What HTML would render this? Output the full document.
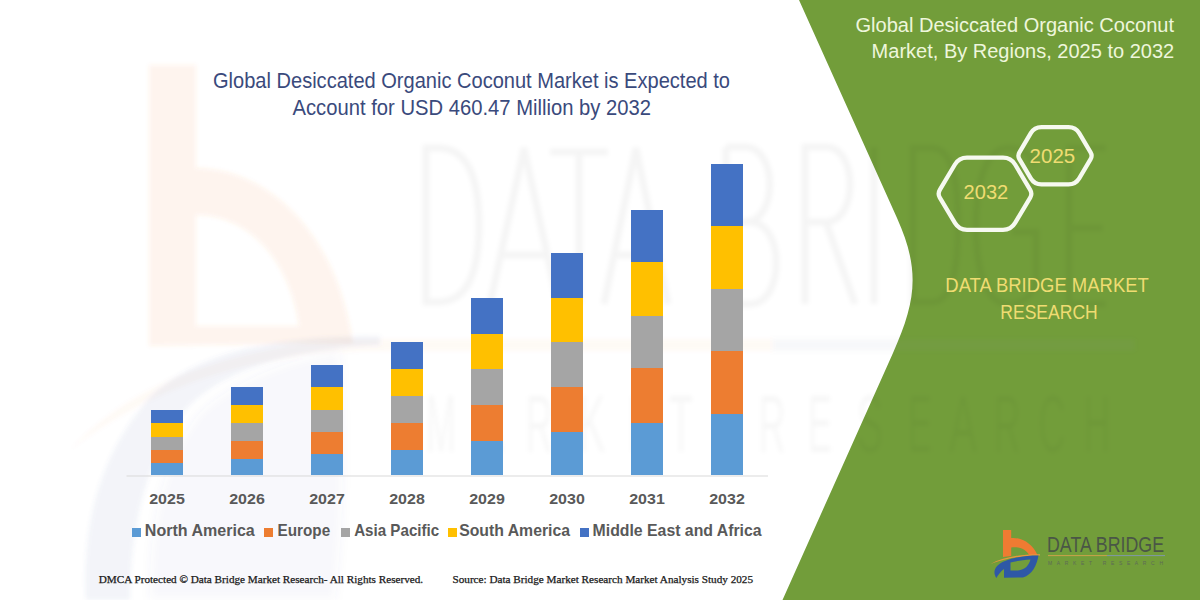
<!DOCTYPE html>
<html><head><meta charset="utf-8">
<style>
html,body{margin:0;padding:0;background:#fff;}
body{width:1200px;height:600px;overflow:hidden;position:relative;font-family:"Liberation Sans",sans-serif;}
svg{position:absolute;left:0;top:0;display:block;}
</style></head>
<body>
<svg width="1200" height="600" viewBox="0 0 1200 600">
  <rect x="0" y="0" width="1200" height="600" fill="#ffffff"/>
  <!-- green panel -->
  <path d="M799,0 L897,218 C920.4,270 916.2,301 893,353 L782.5,600 L1200,600 L1200,0 Z" fill="#729d3a"/>

  <!-- watermark -->
  <defs>
    <filter id="bl" x="-10%" y="-10%" width="120%" height="120%"><feGaussianBlur stdDeviation="2"/></filter>
    <filter id="bl4" x="-10%" y="-10%" width="120%" height="120%"><feGaussianBlur stdDeviation="5"/></filter>
  </defs>
  <g filter="url(#bl)">
    <!-- big b -->
    <g fill="#f07c30" fill-opacity="0.085">
      <path fill-rule="evenodd" d="M149,65 L196,65 L196,168 C262,168 335,225 353,343 L149,346 Z M196,215 C250,215 290,262 299,326 L196,326 Z"/>
    </g>
    <!-- swoosh orange thin -->
    <path d="M70,450 C130,385 230,345 360,339 L773,339 L773,351 L360,351 C240,355 140,395 70,450 Z" fill="#f07c30" fill-opacity="0.04"/>
    <rect x="773" y="339" width="362" height="12" fill="#7085a8" fill-opacity="0.06"/>
    <!-- D swoosh (blue gray) -->
    <path d="M86,600 C82,520 102,450 152,395 C202,350 280,335 380,336 L380,345 C290,348 222,372 188,407 C150,450 130,520 130,600 Z" fill="#4a6aa8" fill-opacity="0.075"/>
    <path d="M150,600 C148,520 165,455 200,412 C235,380 290,358 340,352 C345,420 345,520 335,600 Z" fill="#4a6aa8" fill-opacity="0.04" filter="url(#bl4)"/>
    <!-- DATA BRIDGE letters -->
    <g fill="none" stroke="#000" stroke-opacity="0.04" stroke-width="7">
      <path d="M426,148 L426,302 L438,302 C468,302 479,270 479,225 C479,180 468,148 438,148 Z"/>
      <path d="M490,304 L524,148 L558,304 M500,255 L548,255"/>
      <path d="M550,152 L608,152 M579,152 L579,304"/>
      <path d="M604,304 L636,148 L668,304 M614,255 L658,255"/>
      <path d="M726,147 L726,304 L750,304 C785,304 785,222 750,222 L726,222 M726,147 L745,147 C778,147 778,222 745,222"/>
      <path d="M805,304 L805,147 L826,147 C858,147 858,222 826,222 L805,222 M826,222 L855,304"/>
      <path d="M874,147 L874,304"/>
      <path d="M913,148 L913,302 L932,302 C952,302 958,270 958,225 C958,180 952,148 932,148 Z"/>
      <path d="M1036,165 C1028,150 1018,148 1008,148 C985,148 976,185 976,226 C976,268 985,304 1008,304 C1022,304 1034,296 1036,280 L1036,232 L1012,232"/>
      <path d="M1106,148 L1069,148 L1069,304 L1106,304 M1069,228 L1103,228"/>
    </g>
    <!-- MARKET RESEARCH letters -->
    <g font-family="Liberation Sans" font-size="82" fill="#000" fill-opacity="0.03" text-anchor="middle">
      <text x="441" y="452" textLength="30" lengthAdjust="spacingAndGlyphs">M</text>
      <text x="490" y="452" textLength="28" lengthAdjust="spacingAndGlyphs">A</text>
      <text x="539" y="452" textLength="27" lengthAdjust="spacingAndGlyphs">R</text>
      <text x="592" y="452" textLength="27" lengthAdjust="spacingAndGlyphs">K</text>
      <text x="640" y="452" textLength="24" lengthAdjust="spacingAndGlyphs">E</text>
      <text x="681" y="452" textLength="24" lengthAdjust="spacingAndGlyphs">T</text>
      <text x="772" y="452" textLength="27" lengthAdjust="spacingAndGlyphs">R</text>
      <text x="820" y="452" textLength="24" lengthAdjust="spacingAndGlyphs">E</text>
      <text x="870" y="452" textLength="26" lengthAdjust="spacingAndGlyphs">S</text>
      <text x="920" y="452" textLength="24" lengthAdjust="spacingAndGlyphs">E</text>
      <text x="963" y="452" textLength="28" lengthAdjust="spacingAndGlyphs">A</text>
      <text x="1007" y="452" textLength="27" lengthAdjust="spacingAndGlyphs">R</text>
      <text x="1052" y="452" textLength="27" lengthAdjust="spacingAndGlyphs">C</text>
      <text x="1097" y="452" textLength="27" lengthAdjust="spacingAndGlyphs">H</text>
    </g>
  </g>

  <!-- title -->
  <g font-family="Liberation Sans" fill="#3a4a7c">
    <text x="213" y="87.7" font-size="21.2" textLength="517" lengthAdjust="spacingAndGlyphs">Global Desiccated Organic Coconut Market is Expected to</text>
    <text x="292.5" y="114.9" font-size="21.2" textLength="358.5" lengthAdjust="spacingAndGlyphs">Account for USD 460.47 Million by 2032</text>
  </g>

  <!-- axis -->
  <line x1="126.5" y1="476" x2="768" y2="476" stroke="#d9d9d9" stroke-width="1"/>

  <!-- bars: NA, EU, AP, SA, MEA -->
  <g shape-rendering="crispEdges">
    <!-- 2025 -->
    <rect x="151" y="463.3" width="32" height="11.9" fill="#5b9bd5"/>
    <rect x="151" y="449.6" width="32" height="13.7" fill="#ed7d31"/>
    <rect x="151" y="436.7" width="32" height="12.9" fill="#a5a5a5"/>
    <rect x="151" y="422.7" width="32" height="14" fill="#ffc000"/>
    <rect x="151" y="409.6" width="32" height="13.1" fill="#4472c4"/>
    <!-- 2026 -->
    <rect x="231" y="458.7" width="32" height="16.5" fill="#5b9bd5"/>
    <rect x="231" y="440.8" width="32" height="17.9" fill="#ed7d31"/>
    <rect x="231" y="423" width="32" height="17.8" fill="#a5a5a5"/>
    <rect x="231" y="405" width="32" height="18" fill="#ffc000"/>
    <rect x="231" y="387" width="32" height="18" fill="#4472c4"/>
    <!-- 2027 -->
    <rect x="311" y="454.4" width="32" height="20.8" fill="#5b9bd5"/>
    <rect x="311" y="431.5" width="32" height="22.9" fill="#ed7d31"/>
    <rect x="311" y="409.6" width="32" height="21.9" fill="#a5a5a5"/>
    <rect x="311" y="386.9" width="32" height="22.7" fill="#ffc000"/>
    <rect x="311" y="364.8" width="32" height="22.1" fill="#4472c4"/>
    <!-- 2028 -->
    <rect x="391" y="450" width="32" height="25.2" fill="#5b9bd5"/>
    <rect x="391" y="422.5" width="32" height="27.5" fill="#ed7d31"/>
    <rect x="391" y="395.75" width="32" height="26.75" fill="#a5a5a5"/>
    <rect x="391" y="368.75" width="32" height="27" fill="#ffc000"/>
    <rect x="391" y="341.75" width="32" height="27" fill="#4472c4"/>
    <!-- 2029 -->
    <rect x="471" y="440.8" width="32" height="34.4" fill="#5b9bd5"/>
    <rect x="471" y="404.7" width="32" height="36.1" fill="#ed7d31"/>
    <rect x="471" y="368.7" width="32" height="36" fill="#a5a5a5"/>
    <rect x="471" y="333.8" width="32" height="34.9" fill="#ffc000"/>
    <rect x="471" y="297.8" width="32" height="36" fill="#4472c4"/>
    <!-- 2030 -->
    <rect x="551" y="432" width="32" height="43.2" fill="#5b9bd5"/>
    <rect x="551" y="386.7" width="32" height="45.3" fill="#ed7d31"/>
    <rect x="551" y="342" width="32" height="44.7" fill="#a5a5a5"/>
    <rect x="551" y="297.5" width="32" height="44.5" fill="#ffc000"/>
    <rect x="551" y="252.8" width="32" height="44.7" fill="#4472c4"/>
    <!-- 2031 -->
    <rect x="631" y="422.8" width="32" height="52.4" fill="#5b9bd5"/>
    <rect x="631" y="368.3" width="32" height="54.5" fill="#ed7d31"/>
    <rect x="631" y="316.3" width="32" height="52" fill="#a5a5a5"/>
    <rect x="631" y="262" width="32" height="54.3" fill="#ffc000"/>
    <rect x="631" y="209.5" width="32" height="52.5" fill="#4472c4"/>
    <!-- 2032 -->
    <rect x="711" y="413.7" width="32" height="61.5" fill="#5b9bd5"/>
    <rect x="711" y="350.8" width="32" height="62.9" fill="#ed7d31"/>
    <rect x="711" y="288.8" width="32" height="62" fill="#a5a5a5"/>
    <rect x="711" y="225.5" width="32" height="63.3" fill="#ffc000"/>
    <rect x="711" y="164.2" width="32" height="61.3" fill="#4472c4"/>
  </g>

  <!-- year labels -->
  <g font-family="Liberation Sans" font-weight="bold" font-size="15.3" fill="#595959" text-anchor="middle">
    <text x="167" y="504" textLength="35.6" lengthAdjust="spacingAndGlyphs">2025</text>
    <text x="247" y="504" textLength="35.6" lengthAdjust="spacingAndGlyphs">2026</text>
    <text x="327" y="504" textLength="35.6" lengthAdjust="spacingAndGlyphs">2027</text>
    <text x="407" y="504" textLength="35.6" lengthAdjust="spacingAndGlyphs">2028</text>
    <text x="487" y="504" textLength="35.6" lengthAdjust="spacingAndGlyphs">2029</text>
    <text x="567" y="504" textLength="35.6" lengthAdjust="spacingAndGlyphs">2030</text>
    <text x="647" y="504" textLength="35.6" lengthAdjust="spacingAndGlyphs">2031</text>
    <text x="727" y="504" textLength="35.6" lengthAdjust="spacingAndGlyphs">2032</text>
  </g>

  <!-- legend -->
  <g shape-rendering="crispEdges">
    <rect x="132" y="527.5" width="9" height="9" fill="#5b9bd5"/>
    <rect x="264" y="527.5" width="9" height="9" fill="#ed7d31"/>
    <rect x="340.5" y="527.5" width="9" height="9" fill="#a5a5a5"/>
    <rect x="447.5" y="527.5" width="9" height="9" fill="#ffc000"/>
    <rect x="580" y="527.5" width="9" height="9" fill="#4472c4"/>
  </g>
  <g font-family="Liberation Sans" font-weight="bold" font-size="16.4" fill="#595959">
    <text x="144.8" y="535.7" textLength="110" lengthAdjust="spacingAndGlyphs">North America</text>
    <text x="277.6" y="535.7" textLength="52.6" lengthAdjust="spacingAndGlyphs">Europe</text>
    <text x="354.2" y="535.7" textLength="85" lengthAdjust="spacingAndGlyphs">Asia Pacific</text>
    <text x="459.2" y="535.7" textLength="110.8" lengthAdjust="spacingAndGlyphs">South America</text>
    <text x="592.6" y="535.7" textLength="169" lengthAdjust="spacingAndGlyphs">Middle East and Africa</text>
  </g>

  <!-- footer -->
  <g font-family="Liberation Serif" font-size="10.2" fill="#1a1a1a" stroke="#1a1a1a" stroke-width="0.25">
    <text x="98.8" y="583" textLength="324.3" lengthAdjust="spacingAndGlyphs">DMCA Protected © Data Bridge Market Research-  All Rights Reserved.</text>
    <text x="452.5" y="583" textLength="300.5" lengthAdjust="spacingAndGlyphs">Source: Data Bridge Market Research  Market Analysis Study 2025</text>
  </g>

  <!-- right title -->
  <g font-family="Liberation Sans" font-size="19.6" fill="#eef6dc">
    <text x="855.5" y="31.5" textLength="318.5" lengthAdjust="spacingAndGlyphs">Global Desiccated Organic Coconut</text>
    <text x="871.6" y="58" textLength="302.6" lengthAdjust="spacingAndGlyphs">Market, By Regions, 2025 to 2032</text>
  </g>

  <!-- hexagons -->
  <g fill="none" stroke="#f6f9f0" stroke-width="4.3">
    <path d="M939.8,197.6 Q937.5,193.7 939.8,189.8 L954.9,164.5 Q959.0,157.6 967.0,157.6 L1003.0,157.6 Q1011.0,157.6 1015.1,164.5 L1030.2,189.8 Q1032.5,193.7 1030.2,197.6 L1015.1,222.9 Q1011.0,229.8 1003.0,229.8 L967.0,229.8 Q959.0,229.8 954.9,222.9 Z"/>
    <path d="M1019.4,159.2 Q1017.4,155.8 1019.4,152.4 L1030.8,133.2 Q1034.4,127.2 1041.4,127.2 L1068.6,127.2 Q1075.6,127.2 1079.2,133.2 L1090.6,152.4 Q1092.6,155.8 1090.6,159.2 L1079.2,178.4 Q1075.6,184.4 1068.6,184.4 L1041.4,184.4 Q1034.4,184.4 1030.8,178.4 Z"/>
  </g>
  <g font-family="Liberation Sans" font-size="20" fill="#efdc72">
    <text x="963.6" y="199" textLength="44.6" lengthAdjust="spacingAndGlyphs">2032</text>
    <text x="1029.6" y="163" textLength="45.6" lengthAdjust="spacingAndGlyphs">2025</text>
  </g>

  <!-- DATA BRIDGE MARKET RESEARCH -->
  <g font-family="Liberation Sans" font-size="20.6" fill="#efdc72">
    <text x="945.3" y="291.6" textLength="203.5" lengthAdjust="spacingAndGlyphs">DATA BRIDGE MARKET</text>
    <text x="1000.3" y="319" textLength="97.5" lengthAdjust="spacingAndGlyphs">RESEARCH</text>
  </g>

  <!-- logo -->
  <g>
    <path d="M1003,530 L1011.2,530 L1011.2,538 C1023,537 1033,545 1037.5,555 L1029,555 C1027,550 1019,546 1011.2,547.5 L1011.2,556 L1003,557 Z" fill="#ef7b32"/>
    <path d="M990.5,564 C1003,557.5 1020,554 1040,554.2 L1040,555.4 C1020,555.6 1004,559 990.5,564 Z" fill="#e8963e"/>
    <path d="M996.5,578 C992,572 995,565 1005,561 C1015,557 1027,555.5 1038.5,555.5 C1037,565 1032,575 1023,577.5 L1004,577.8 L1004,569 C1001,571 998,575 996.5,578 Z M1010.5,562.5 L1010.5,570.5 L1018,570.5 C1025,570 1029,565 1030.5,559.5 C1023,560 1016,561 1010.5,562.5 Z" fill="#2e58a6" fill-rule="evenodd"/>
    <text x="1047" y="552.4" font-family="Liberation Sans" font-size="21.6" fill="#4a5646" textLength="117" lengthAdjust="spacingAndGlyphs">DATA BRIDGE</text>
    <line x1="1048" y1="555.6" x2="1107" y2="555.6" stroke="#c9a24a" stroke-width="1"/>
    <line x1="1107" y1="555.6" x2="1165" y2="555.6" stroke="#7f98a8" stroke-width="1"/>
    <text x="1048" y="565" font-family="Liberation Sans" font-size="5" fill="#5d6a58" textLength="115" lengthAdjust="spacing">MARKET RESEARCH</text>
  </g>
</svg>
</body></html>
